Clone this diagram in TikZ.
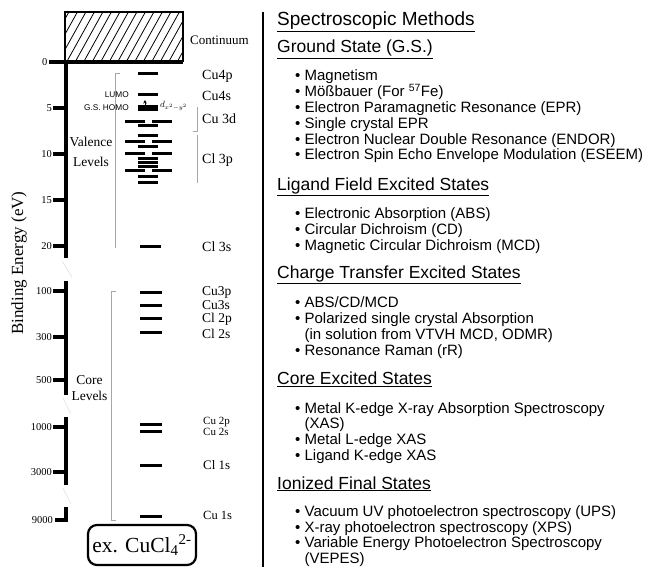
\documentclass[tikz,border=0pt]{standalone}
\usepackage{fontspec}
\setmainfont{Liberation Serif}
\newfontfamily\arialfont{Liberation Sans}
\usetikzlibrary{arrows.meta}

\begin{document}
\begin{tikzpicture}[x=1pt, y=-1pt,
  axisline/.style={line width=4pt},
  tickline/.style={line width=3.5pt},
  lvl/.style={line width=3pt},
  brack/.style={gray!70, line width=0.8pt},
  brk/.style={gray!25, line width=0.6pt},
  ticklab/.style={anchor=east, inner sep=0pt, font=\fontsize{10.5}{10.5}\selectfont},
  orb/.style={anchor=west, inner sep=0pt, font=\fontsize{14}{14}\selectfont},
  tinylab/.style={anchor=east, inner sep=0pt, font=\arialfont\fontsize{8.3}{8.3}\selectfont},
  region/.style={align=center, inner sep=0pt, font=\fontsize{13.5}{20}\selectfont},
  head/.style={anchor=base west, inner sep=0pt, font=\arialfont\fontsize{17.5}{17.5}\selectfont},
  item/.style={anchor=base west, inner sep=0pt, font=\arialfont\fontsize{15}{15}\selectfont, execute at begin node={\textbullet\ }},
  cont/.style={anchor=base west, inner sep=0pt, font=\arialfont\fontsize{15}{15}\selectfont, execute at begin node={\phantom{\textbullet\ }}}]
  \useasboundingbox (0,0) rectangle (645,567);
  % Continuum box:
  \begin{scope}
    \clip (65,12) rectangle (183,62);
    \foreach \k in {0,...,18} \draw[line width=0.8pt] ({40+\k*8.5},64) -- ++(30,-54);
  \end{scope}
  \draw[line width=1.2pt] (65,62) |- (183,12) -- (183,62);
  \node[orb, font=\fontsize{13}{13}\selectfont](CT) at (190,40){Continuum};
  % Axis, ticks and breaks:
  \draw[axisline] (49,62) -- (183,62);
  \draw[axisline] (66,60) -- (66,258);
  \draw[axisline] (66,281) -- (66,395);
  \draw[axisline] (66,417) -- (66,485);
  \draw[axisline, line join=miter] (66,507) -- (66,520) -- (55,520);
  \node[ticklab](T0) at (47.5,62){0};
  \foreach \y/\t in {108/5, 154/10, 200/15, 246/20, 291/100, 337/300, 380/500, 427/1000, 472/3000}{
    \draw[tickline] (53,\y) -- (66,\y);
    \node[ticklab](T\t) at (52,\y){\t};
  }
  \node[ticklab](T9000) at (53,520){9000};
  \draw[brk] (62,261) -- (72,277);
  \draw[brk] (63,398) -- (71,414);
  \draw[brk] (63,488) -- (71,504);
  \node[rotate=90, inner sep=0pt, font=\fontsize{17}{17}\selectfont](BE) at (19,263){Binding Energy (eV)};
  % Brackets:
  \draw[brack] (120,73) -| (115,248);
  \draw[brack] (116,291) -| (111,520) -- (116,520);
  \draw[brack] (197,107) |- (193,131);
  \draw[brack] (197,135) -- (197,183);
  \node[region](VL) at (91,152){Valence\\Levels};
  \node[region, font=\fontsize{13.5}{16}\selectfont](CL) at (89.5,388){Core\\Levels};
  % Valence levels:
  \foreach \y in {74, 95, 107, 110, 126, 136, 147, 158.5, 162.5, 166, 176, 182}
    \draw[lvl] (138,\y) -- (158,\y);
  \foreach \y in {122, 142, 153, 170}{
    \draw[lvl] (125,\y) -- (145,\y);
    \draw[lvl] (152,\y) -- (172,\y);
  }
  \draw[-{Stealth[length=3.5pt, width=3.5pt]}, line width=0.8pt] (145,107) -- (145,100);
  \draw[lvl] (140,246) -- (161,246);
  \node[tinylab](LU) at (129,95){LUMO};
  \node[tinylab](HO) at (129,108){G.S. HOMO};
  \node[anchor=west, inner sep=0pt, font=\fontsize{9}{9}\selectfont](DX) at (160,106){$d_{x^2-y^2}$};
  \node[orb](L4p) at (202,76){Cu4p};
  \node[orb](L4s) at (202,96){Cu4s};
  \node[orb](L3d) at (202,119){Cu 3d};
  \node[orb](L3p) at (202,160){Cl 3p};
  \node[orb](L3s) at (202,247){Cl 3s};
  % Core levels:
  \foreach \y in {292, 305, 318, 332, 424, 431, 465, 516}
    \draw[lvl] (140,\y) -- (162,\y);
  \node[orb, font=\fontsize{13.5}{13.5}\selectfont](K1) at (202,292){Cu3p};
  \node[orb, font=\fontsize{13.5}{13.5}\selectfont](K2) at (202,305.5){Cu3s};
  \node[orb, font=\fontsize{13.5}{13.5}\selectfont](K3) at (202,319){Cl 2p};
  \node[orb, font=\fontsize{13.5}{13.5}\selectfont](K4) at (202,333.5){Cl 2s};
  \node[orb, font=\fontsize{11}{11}\selectfont](K5) at (203,422){Cu 2p};
  \node[orb, font=\fontsize{11}{11}\selectfont](K6) at (203,431.5){Cu 2s};
  \node[orb, font=\fontsize{13}{13}\selectfont](K7) at (203,465){Cl 1s};
  \node[orb, font=\fontsize{12.5}{12.5}\selectfont](K8) at (203,515.5){Cu 1s};
  \node[draw, line width=2.2pt, rounded corners=9pt, minimum width=108pt, minimum height=40pt, inner sep=0pt, font=\fontsize{21.5}{21.5}\selectfont](EX) at (142,545){ex. CuCl\textsubscript{4}\textsuperscript{2-}};
  % Separator and methods:
  \draw[line width=2.2pt] (263,12) -- (263,567);
  \node[head, font=\arialfont\fontsize{19}{19}\selectfont](H0) at (277,26){\underline{Spectroscopic Methods}};
  \node[head](H1) at (277,53){\underline{Ground State (G.S.)}};
  \node[item](I1) at (295,81){Magnetism};
  \node[item](I2) at (295,96.8){Mößbauer (For \textsuperscript{57}Fe)};
  \node[item](I3) at (295,112.6){Electron Paramagnetic Resonance (EPR)};
  \node[item](I4) at (295,128.4){Single crystal EPR};
  \node[item](I5) at (295,144.2){Electron Nuclear Double Resonance (ENDOR)};
  \node[item](I6) at (295,160){Electron Spin Echo Envelope Modulation (ESEEM)};
  \node[head](H2) at (277,190){\underline{Ligand Field Excited States}};
  \node[item](I7) at (295,218){Electronic Absorption (ABS)};
  \node[item](I8) at (295,234){Circular Dichroism (CD)};
  \node[item](I9) at (295,250){Magnetic Circular Dichroism (MCD)};
  \node[head](H3) at (277,278.5){\underline{Charge Transfer Excited States}};
  \node[item](I10) at (295,307.6){ABS/CD/MCD};
  \node[item](I11) at (295,323.4){Polarized single crystal Absorption};
  \node[cont](I12) at (295,339.2){(in solution from VTVH MCD, ODMR)};
  \node[item](I13) at (295,355){Resonance Raman (rR)};
  \node[head](H4) at (277,384.5){\underline{Core Excited States}};
  \node[item](I14) at (295,413){Metal K-edge X-ray Absorption Spectroscopy};
  \node[cont](I15) at (295,428.8){(XAS)};
  \node[item](I16) at (295,444.6){Metal L-edge XAS};
  \node[item](I17) at (295,460.4){Ligand K-edge XAS};
  \node[head](H5) at (277,489){\underline{Ionized Final States}};
  \node[item](I18) at (295,516.5){Vacuum UV photoelectron spectroscopy (UPS)};
  \node[item](I19) at (295,532){X-ray photoelectron spectroscopy (XPS)};
  \node[item](I20) at (295,547.5){Variable Energy Photoelectron Spectroscopy};
  \node[cont](I21) at (295,563){(VEPES)};
\end{tikzpicture}
\end{document}
